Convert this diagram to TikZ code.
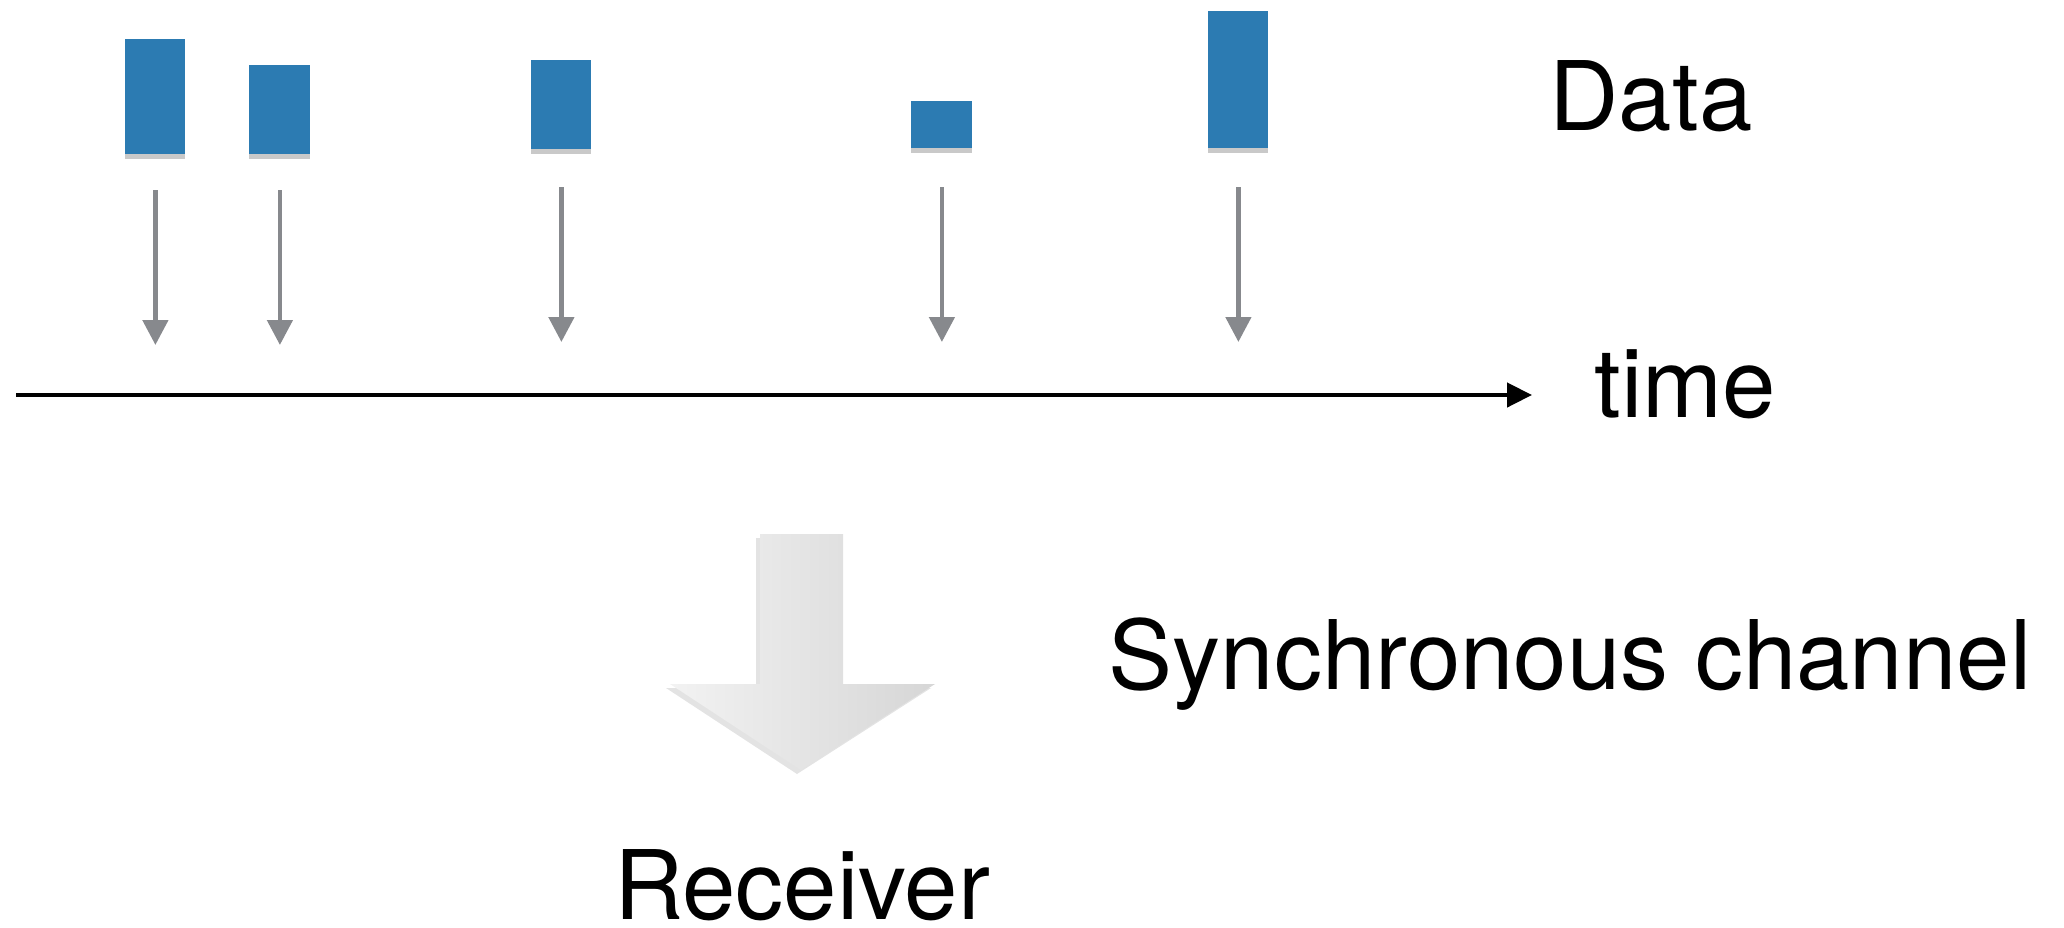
\documentclass[tikz,border=0pt]{standalone}
\usepackage{fontspec}
\setmainfont{TeX Gyre Heros}
\usetikzlibrary{arrows.meta,shadows,calc}
\definecolor{databl}{RGB}{44,123,178}
\definecolor{tickgray}{RGB}{135,137,141}
\tikzset{
  databox/.style={draw=none, fill=databl, inner sep=0pt, anchor=north west,
    drop shadow={opacity=0.3, shadow xshift=0pt, shadow yshift=-2.5pt, fill=black!70}},
  tickarrow/.style={draw=tickgray, line width=2.35pt,
    -{Triangle[width=12.5pt,length=12.5pt]}},
  timearrow/.style={draw=black, line width=2.2pt,
    -{Triangle[width=12pt,length=12.5pt]}},
  lbl/.style={inner sep=0pt, anchor=base, text depth=0pt, font=\fontsize{48}{56}\selectfont},
}
\begin{document}
\begin{tikzpicture}[x=0.5pt,y=-0.5pt]
\useasboundingbox (0,0) rectangle (2064,927);
% data boxes
\node[databox, minimum width=30pt, minimum height=57.5pt] (r1) at (125,39) {};
\node[databox, minimum width=30.5pt, minimum height=44.5pt] (r2) at (249,65) {};
\node[databox, minimum width=30pt, minimum height=44.5pt] (r3) at (531,60) {};
\node[databox, minimum width=30.5pt, minimum height=23.5pt] (r4) at (911,101) {};
\node[databox, minimum width=30pt, minimum height=68.5pt] (r5) at (1208,11) {};
% tick arrows
\foreach \r/\ys/\ye in {r1/190/345, r2/190/345, r3/187/342, r4/187/342, r5/187/342}{
  \coordinate (\r s) at (\r.south |- 0,\ys);
  \coordinate (\r e) at (\r.south |- 0,\ye);
  \draw[tickarrow] (\r s) -- (\r e);
}
% time axis
\coordinate (t0) at (16,395);
\node[lbl] (time) at (1685,417) {time};
\coordinate (t1) at (1532,395);
\draw[timearrow] (t0) -- (t1);
% labels
\node[lbl] (data) at (1651,130) {Data};
\node[lbl] (sync) at (1570,689) {Synchronous channel};
\node[lbl] (recv) at (802,919) {Receiver};
% big gray arrow
\path[left color=gray!10, right color=gray!32, draw=none,
  drop shadow={opacity=0.22, shadow xshift=-2pt, shadow yshift=-2pt}]
  (760,534) -- (843,534) -- (843,684) -- (935,684) -- (801,770)
  -- (670,684) -- (760,684) -- cycle;
\end{tikzpicture}
\end{document}
